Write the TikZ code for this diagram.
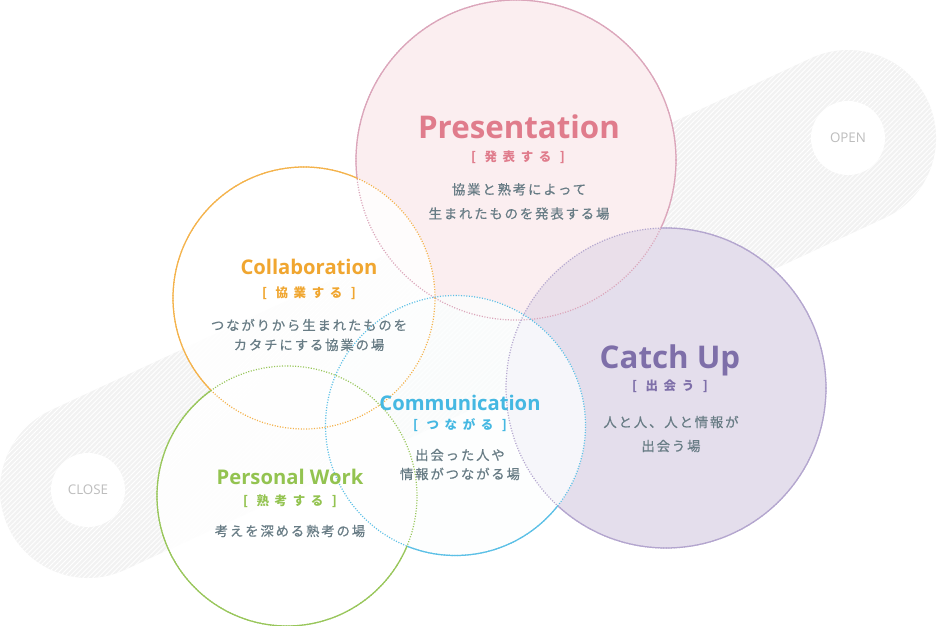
\documentclass[tikz,border=0pt]{standalone}
\usepackage{fontspec}
\setmainfont{Open Sans}
\newfontfamily\jp[LetterSpace=14, FakeBold=0.5]{Noto Sans CJK JP}
\newfontfamily\jpw[LetterSpace=45]{Noto Sans CJK JP}
\usepackage{tikz}
\usetikzlibrary{patterns.meta}
\usepackage{xcolor}

\definecolor{pinkT}{HTML}{E07C8C}
\definecolor{pinkL}{HTML}{DBA5BA}
\definecolor{pinkF}{HTML}{FBEEF0}
\definecolor{purpT}{HTML}{7E6FA9}
\definecolor{purpL}{HTML}{B3A5CE}
\definecolor{purpF}{HTML}{E4DEEC}
\definecolor{lensF}{HTML}{EADFEA}
\definecolor{oranT}{HTML}{F0A630}
\definecolor{oranL}{HTML}{F4B24A}
\definecolor{blueT}{HTML}{45B8E2}
\definecolor{blueL}{HTML}{5CC0E6}
\definecolor{greeT}{HTML}{93C350}
\definecolor{greeL}{HTML}{98C65A}
\definecolor{bodyT}{HTML}{687C85}
\definecolor{bandF}{HTML}{F2F2F2}
\definecolor{tagT}{HTML}{BDBDBD}

\begin{document}
\begin{tikzpicture}[
    band/.style={
        fill=bandF,
        postaction={pattern={Lines[angle=45, distance=1pt, line width=0.25pt]}, pattern color=white}
    },
    tag/.style={circle, fill=white, minimum size=0.74cm, inner sep=0pt,
        font=\fontsize{3.8}{4}\selectfont, text=tagT},
    ring/.style={line width=0.35pt},
    dotring/.style={line width=0.35pt, dash pattern=on 0.3pt off 0.45pt},
    big/.style={font=\fontsize{8.9}{10}\selectfont\bfseries},
    mid/.style={font=\fontsize{5.75}{7}\selectfont\bfseries},
    sub/.style={font=\jpw\bfseries\fontsize{3.55}{4}\selectfont},
    body/.style={font=\jp\fontsize{3.8}{#1}\selectfont, text=bodyT, align=center},
    body/.default=5.6
]
\useasboundingbox (0,0) rectangle (9.4,6.26);

% 中心
\coordinate (close) at (0.88,1.36);
\coordinate (open) at (8.48,4.88);
\coordinate (pres) at (5.16,4.66);
\coordinate (catch) at (6.66,2.38);
\coordinate (collab) at (3.04,3.28);
\coordinate (comm) at (4.555,2.005);
\coordinate (pers) at (2.87,1.30);

% 帯
\begin{scope}[shift={(close)}, rotate=24.85]
\path[band] (0,0.88) -- (8.376,0.88) arc[start angle=90, end angle=-90, radius=0.88]
    -- (0,-0.88) arc[start angle=270, end angle=90, radius=0.88] -- cycle;
\end{scope}
\node[tag] (closetag) at (close) {CLOSE};
\node[tag] (opentag) at (open) {OPEN};

% 塗り
\fill[pinkF] (pres) circle[radius=1.6];
\fill[purpF] (catch) circle[radius=1.6];
\begin{scope}
\clip (pres) circle[radius=1.6];
\fill[lensF] (catch) circle[radius=1.6];
\end{scope}
\fill[white, fill opacity=0.85] (collab) circle[radius=1.31];
\fill[blueL!2, fill opacity=0.78] (comm) circle[radius=1.3];
\fill[white, fill opacity=0.85] (pers) circle[radius=1.3];

% 点線
\draw[dotring, pinkL] (pres) circle[radius=1.6];
\draw[dotring, purpL] (catch) circle[radius=1.6];
\draw[dotring, oranL] (collab) circle[radius=1.31];
\draw[dotring, blueL] (comm) circle[radius=1.3];
\draw[dotring, greeL] (pers) circle[radius=1.3];

% 実線
\begin{scope}[even odd rule]
\clip (-1,-1) rectangle (10.4,7.3) (catch) circle[radius=1.6];
\clip (-1,-1) rectangle (10.4,7.3) (collab) circle[radius=1.31];
\clip (-1,-1) rectangle (10.4,7.3) (comm) circle[radius=1.3];
\draw[ring, pinkL] (pres) circle[radius=1.6];
\end{scope}
\begin{scope}[even odd rule]
\clip (-1,-1) rectangle (10.4,7.3) (pres) circle[radius=1.6];
\clip (-1,-1) rectangle (10.4,7.3) (comm) circle[radius=1.3];
\draw[ring, purpL] (catch) circle[radius=1.6];
\end{scope}
\begin{scope}[even odd rule]
\clip (-1,-1) rectangle (10.4,7.3) (pres) circle[radius=1.6];
\clip (-1,-1) rectangle (10.4,7.3) (comm) circle[radius=1.3];
\clip (-1,-1) rectangle (10.4,7.3) (pers) circle[radius=1.3];
\draw[ring, oranL] (collab) circle[radius=1.31];
\end{scope}
\begin{scope}[even odd rule]
\clip (-1,-1) rectangle (10.4,7.3) (pres) circle[radius=1.6];
\clip (-1,-1) rectangle (10.4,7.3) (catch) circle[radius=1.6];
\clip (-1,-1) rectangle (10.4,7.3) (collab) circle[radius=1.31];
\clip (-1,-1) rectangle (10.4,7.3) (pers) circle[radius=1.3];
\draw[ring, blueL] (comm) circle[radius=1.3];
\end{scope}
\begin{scope}[even odd rule]
\clip (-1,-1) rectangle (10.4,7.3) (collab) circle[radius=1.31];
\clip (-1,-1) rectangle (10.4,7.3) (comm) circle[radius=1.3];
\draw[ring, greeL] (pers) circle[radius=1.3];
\end{scope}

% 文字
\node[big, text=pinkT] (prestitle) at (5.19,4.99) {Presentation};
\node[sub, text=pinkT] (pressub) at (5.18,4.69) {[ 発表する ]};
\node[body=6.9] (prestext) at (5.19,4.245) {協業と熟考によって\\生まれたものを発表する場};

\node[big, text=purpT] (catchtitle) at (6.70,2.66) {Catch Up};
\node[sub, text=purpT] (catchsub) at (6.70,2.40) {[ 出会う ]};
\node[body=6.8] (catchtext) at (6.71,1.92) {人と人、人と情報が\\出会う場};

\node[mid, text=oranT] (collabtitle) at (3.09,3.59) {Collaboration};
\node[sub, text=oranT] (collabsub) at (3.09,3.33) {[ 協業する ]};
\node[body] (collabtext) at (3.09,2.91) {つながりから生まれたものを\\カタチにする協業の場};

\node[mid, text=blueT] (commtitle) at (4.60,2.23) {Communication};
\node[sub, text=blueT] (commsub) at (4.60,2.01) {[ つながる ]};
\node[body=5.4] (commtext) at (4.60,1.615) {出会った人や\\情報がつながる場};

\node[mid, text=greeT] (perstitle) at (2.90,1.49) {Personal Work};
\node[sub, text=greeT] (perssub) at (2.90,1.25) {[ 熟考する ]};
\node[body] (perstext) at (2.90,0.95) {考えを深める熟考の場};

\end{tikzpicture}
\end{document}
